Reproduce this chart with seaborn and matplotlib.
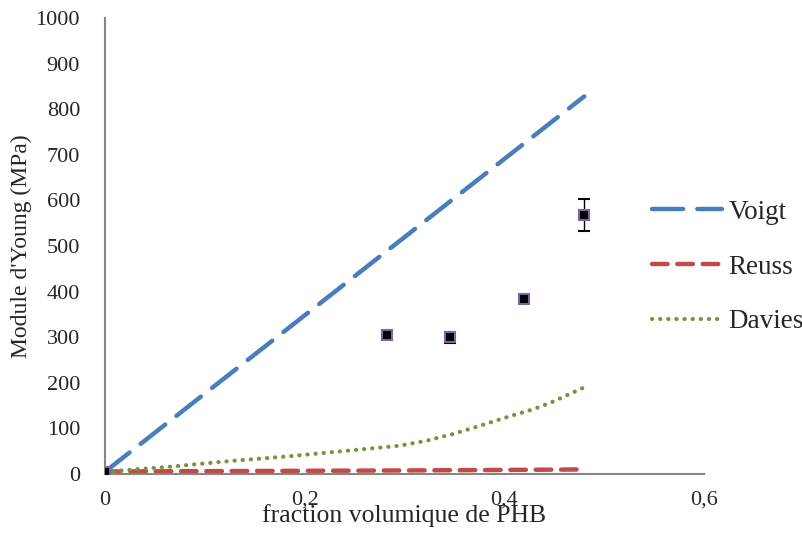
import numpy as np
import pandas as pd
import matplotlib
matplotlib.use("Agg")
import matplotlib.pyplot as plt
import seaborn as sns

# Data
exp_x = [0.0, 0.282, 0.346, 0.420, 0.480]
exp_y = [5, 305, 300, 383, 568]
exp_err = [3, 8, 12, 5, 35]

voigt_x = [0.0, 0.48]
voigt_y = [5, 828]

reuss_x = [0.0, 0.1, 0.2, 0.3, 0.4, 0.48]
reuss_y = [5.5, 6.2, 7.0, 7.8, 8.9, 10]

davies_x = [0.0, 0.01, 0.065, 0.118, 0.185, 0.252, 0.295, 0.322, 0.349, 0.376, 0.403, 0.429, 0.446, 0.48]
davies_y = [5, 6.6, 16, 27, 39, 53, 62, 73, 88, 106, 125, 142, 156, 190]

x_ticks = [0, 0.2, 0.4, 0.6]
x_tick_labels = ["0", "0,2", "0,4", "0,6"]
y_ticks = list(range(0, 1001, 100))

sns.set_style("white")
plt.rcParams['font.family'] = ['Liberation Serif', 'DejaVu Serif']

fig = plt.figure(figsize=(8.03, 5.39), dpi=100)
ax = fig.add_axes([0.1308, 0.1206, 0.7459, 0.846])

df_v = pd.DataFrame({"x": voigt_x, "y": voigt_y})
df_r = pd.DataFrame({"x": reuss_x, "y": reuss_y})
df_d = pd.DataFrame({"x": davies_x, "y": davies_y})

sns.lineplot(data=df_v, x="x", y="y", ax=ax, color="#4A7EBB", linewidth=3.2,
             label="Voigt")
sns.lineplot(data=df_r, x="x", y="y", ax=ax, color="#BE4B48", linewidth=3.2,
             label="Reuss")
sns.lineplot(data=df_d, x="x", y="y", ax=ax, color="#77933C", linewidth=3.0,
             label="Davies")
lines = ax.get_lines()
lines[0].set_dashes([7, 3.2])
lines[0].set_dash_capstyle("round")
lines[1].set_dashes([3.5, 2.2])
lines[1].set_dash_capstyle("round")
lines[2].set_dashes([0.05, 1.9])
lines[2].set_dash_capstyle("round")

ax.errorbar(exp_x, exp_y, yerr=exp_err, fmt="s", color="black", ecolor="black",
            elinewidth=1.0, capsize=4, capthick=1.0, markersize=7,
            markerfacecolor="black", markeredgecolor="#8064A2", markeredgewidth=1.5,
            zorder=5)

ax.set_xlim(0, 0.6)
ax.set_ylim(0, 1000)
ax.set_xticks(x_ticks)
ax.set_xticklabels(x_tick_labels)
ax.set_yticks(y_ticks)

for s in ["top", "right"]:
    ax.spines[s].set_visible(False)
for s in ["left", "bottom"]:
    ax.spines[s].set_color("#868686")
    ax.spines[s].set_linewidth(1.5)

ax.tick_params(axis="both", which="both", direction="out", length=6, width=1.2,
               color="#868686", labelsize=16)
ax.tick_params(axis="x", pad=6)
ax.tick_params(axis="y", pad=12)

ax.set_xlabel("fraction volumique de PHB", fontsize=18.5)
ax.xaxis.set_label_coords(0.5, -0.092)
ax.xaxis.label.set_verticalalignment("center")
ax.set_ylabel("Module d'Young (MPa)", fontsize=17)
ax.yaxis.set_label_coords(-0.140, 0.50)
ax.yaxis.label.set_verticalalignment("center")

ax.get_legend().remove()
handles = lines[:3]
fig.legend(handles, ["Voigt", "Reuss", "Davies"], loc="center left",
           bbox_to_anchor=(0.812, 0.5046), frameon=False, fontsize=19.5,
           handlelength=2.6, labelspacing=1.1, handletextpad=0.22,
           borderpad=0, borderaxespad=0)

fig.savefig("out.png", dpi=100)
